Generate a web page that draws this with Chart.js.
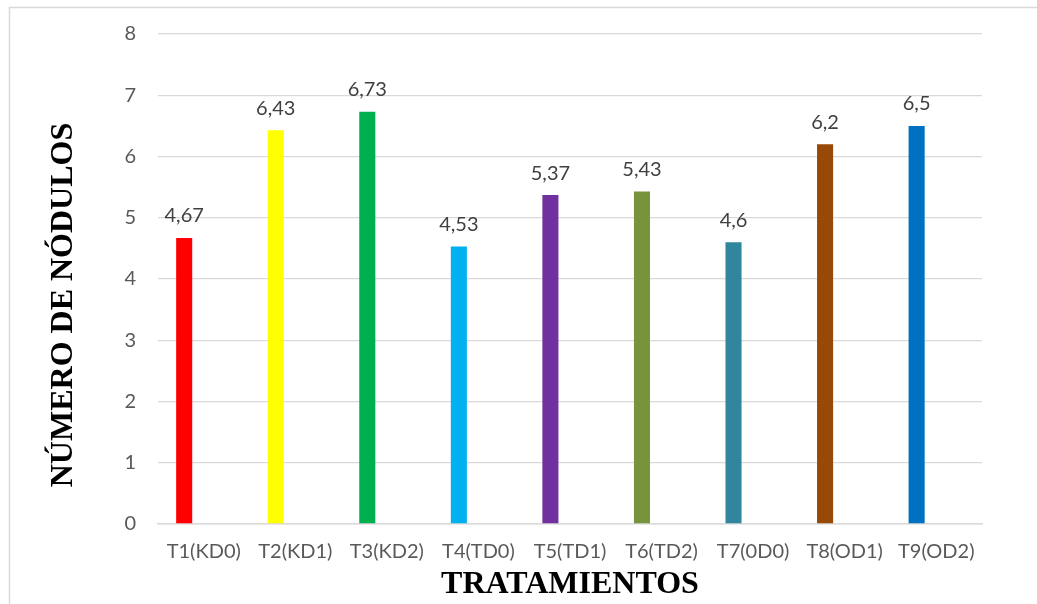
<!DOCTYPE html>
<html>
<head>
<meta charset="utf-8">
<script src="https://cdn.jsdelivr.net/npm/chart.js@4.4.0/dist/chart.umd.min.js"></script>
<style>
  html, body { margin: 0; padding: 0; background: #fff; }
  #wrap { width: 1037px; height: 604px; position: relative; }
</style>
</head>
<body>
<div id="wrap"><canvas id="grafico"></canvas></div>
<script>
// datos del grafico
const tratamientos = ['T1(KD0)', 'T2(KD1)', 'T3(KD2)', 'T4(TD0)', 'T5(TD1)', 'T6(TD2)', 'T7(0D0)', 'T8(OD1)', 'T9(OD2)'];
const nodulos = [4.67, 6.43, 6.73, 4.53, 5.37, 5.43, 4.6, 6.2, 6.5];
const colores = ['#FF0000', '#FFFF00', '#00B050', '#00B0F0', '#7030A0', '#77933C', '#31859C', '#984807', '#0070C0'];
const ticks_y = [0, 1, 2, 3, 4, 5, 6, 7, 8];
const titulo_y = 'NÚMERO DE NÓDULOS';
const titulo_x = 'TRATAMIENTOS';

const fuente = "Lato, 'Open Sans', sans-serif";
const fuente_titulo = "'Liberation Serif', 'DejaVu Serif', serif";

// marco gris, fondo blanco y titulo del eje y
const marco = {
  id: 'marco',
  beforeDraw(chart) {
    const ctx = chart.ctx;
    ctx.save();
    ctx.fillStyle = '#ffffff';
    ctx.fillRect(0, 0, chart.width, chart.height);
    ctx.strokeStyle = '#d9d9d9';
    ctx.lineWidth = 1.5;
    ctx.strokeRect(9.5, 7.5, 1100, 700);
    ctx.restore();
  },
  afterDraw(chart) {
    const ctx = chart.ctx;
    ctx.save();
    ctx.translate(72, 305);
    ctx.rotate(-Math.PI / 2);
    ctx.font = 'bold 32px ' + fuente_titulo;
    ctx.fillStyle = '#000000';
    ctx.textAlign = 'center';
    ctx.textBaseline = 'alphabetic';
    ctx.fillText(titulo_y, 0, 0);
    ctx.restore();
  }
};

// etiquetas de valores con coma decimal
const etiquetas = {
  id: 'etiquetas',
  afterDatasetsDraw(chart) {
    const ctx = chart.ctx;
    const meta = chart.getDatasetMeta(0);
    ctx.save();
    ctx.font = '20px ' + fuente;
    ctx.fillStyle = '#404040';
    ctx.textAlign = 'center';
    ctx.textBaseline = 'bottom';
    meta.data.forEach(function(bar, i){
      const txt = String(nodulos[i]).replace('.', ',');
      ctx.fillText(txt, bar.x, bar.y - 12);
    });
    ctx.restore();
  }
};

const ctx = document.getElementById('grafico').getContext('2d');
const myChart = new Chart(ctx, {
  type: 'bar',
  data: {
    labels: tratamientos,
    datasets: [{
      label: 'Número de nódulos',
      data: nodulos,
      backgroundColor: colores,
      borderWidth: 0,
      categoryPercentage: 0.856,
      barPercentage: 0.41
    }, {
      label: '',
      data: tratamientos.map(() => null),
      categoryPercentage: 0.856,
      barPercentage: 0.41
    }]
  },
  options: {
    responsive: true,
    maintainAspectRatio: false,
    animation: false,
    devicePixelRatio: 1,
    layout: { padding: { left: 0, right: 55, top: 33, bottom: 0 } },
    plugins: {
      legend: { display: false },
      tooltip: { enabled: false }
    },
    scales: {
      x: {
        grid: { display: false, drawTicks: false },
        border: { color: '#d9d9d9', width: 1.5 },
        ticks: { color: '#595959', font: { family: fuente, size: 20 }, padding: 16, maxRotation: 0, autoSkip: false },
        title: {
          display: true,
          text: titulo_x,
          color: '#000000',
          font: { family: fuente_titulo, size: 32, weight: 'bold' },
          padding: { top: 0, bottom: 0 }
        },
        afterFit(scale) { scale.height = 80; }
      },
      y: {
        min: 0,
        max: 8,
        afterBuildTicks(scale) { scale.ticks = ticks_y.map(v => ({ value: v })); },
        grid: { color: '#d9d9d9', lineWidth: 1.3, drawTicks: false },
        border: { display: false },
        ticks: { color: '#595959', font: { family: fuente, size: 20 }, padding: 22 },
        title: { display: false },
        afterFit(scale) { scale.width = 158; }
      }
    }
  },
  plugins: [marco, etiquetas]
});
</script>
</body>
</html>
